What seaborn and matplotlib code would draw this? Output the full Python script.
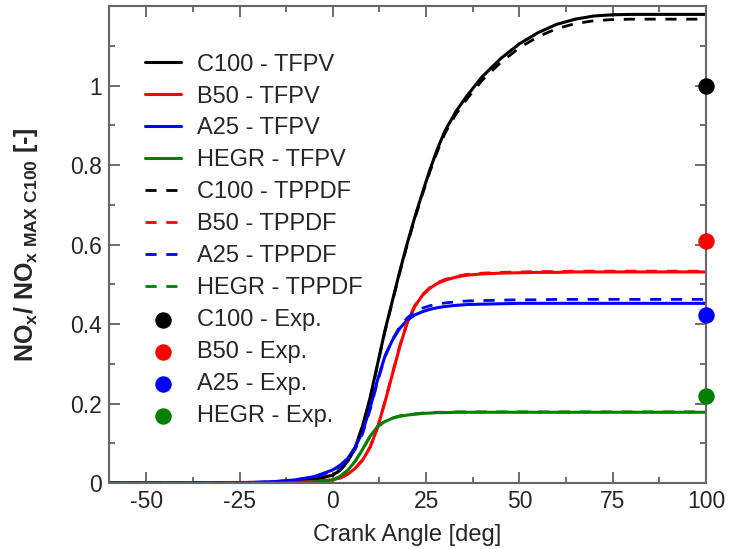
import matplotlib
matplotlib.use("Agg")
import matplotlib.pyplot as plt
import seaborn as sns
import pandas as pd
from matplotlib.ticker import MultipleLocator

sns.set_style("ticks")
plt.rcParams['font.family'] = ['Liberation Sans', 'DejaVu Sans']
plt.rcParams['mathtext.fontset'] = 'custom'
plt.rcParams['mathtext.rm'] = 'Liberation Sans'
plt.rcParams['mathtext.bf'] = 'Liberation Sans:bold'

angle = [-60, -40, -30, -20, -15, -10, -5, 0, 2, 4, 6, 8, 10, 12, 14, 16, 18, 20, 22, 24,
         26, 28, 30, 33, 36, 40, 45, 50, 55, 60, 65, 70, 75, 80, 90, 100]

c100_tfpv = [0, 0, 0, 0.001, 0.002, 0.004, 0.009, 0.02, 0.033, 0.055, 0.09, 0.145, 0.215, 0.3,
             0.385, 0.46, 0.535, 0.605, 0.67, 0.73, 0.788, 0.84, 0.885, 0.935, 0.975, 1.022,
             1.068, 1.105, 1.133, 1.154, 1.167, 1.175, 1.178, 1.179, 1.179, 1.179]
c100_tppdf = [0, 0, 0, 0.001, 0.002, 0.004, 0.009, 0.019, 0.032, 0.054, 0.089, 0.143, 0.213, 0.298,
              0.383, 0.458, 0.532, 0.602, 0.666, 0.726, 0.783, 0.834, 0.879, 0.928, 0.967, 1.013,
              1.058, 1.095, 1.123, 1.143, 1.156, 1.163, 1.166, 1.167, 1.167, 1.167]
b50_tfpv = [0, 0, 0, 0, 0.001, 0.002, 0.004, 0.008, 0.013, 0.022, 0.037, 0.058, 0.09, 0.14,
            0.205, 0.275, 0.345, 0.405, 0.445, 0.472, 0.49, 0.502, 0.51, 0.518, 0.523, 0.526,
            0.528, 0.529, 0.53, 0.53, 0.531, 0.531, 0.531, 0.531, 0.531, 0.531]
b50_tppdf = [0, 0, 0, 0, 0.001, 0.002, 0.004, 0.008, 0.013, 0.022, 0.037, 0.059, 0.091, 0.141,
             0.206, 0.277, 0.347, 0.407, 0.447, 0.474, 0.492, 0.504, 0.512, 0.52, 0.525, 0.528,
             0.53, 0.531, 0.532, 0.532, 0.533, 0.533, 0.533, 0.533, 0.533, 0.533]
a25_tfpv = [0, 0, 0.0005, 0.002, 0.004, 0.008, 0.016, 0.033, 0.045, 0.062, 0.09, 0.13, 0.19, 0.26,
            0.32, 0.36, 0.39, 0.41, 0.423, 0.431, 0.437, 0.441, 0.444, 0.447, 0.449, 0.45,
            0.451, 0.452, 0.452, 0.452, 0.452, 0.452, 0.452, 0.452, 0.452, 0.452]
a25_tppdf = [0, 0, 0.0005, 0.002, 0.004, 0.008, 0.015, 0.03, 0.042, 0.058, 0.085, 0.125, 0.185, 0.255,
             0.318, 0.362, 0.394, 0.416, 0.43, 0.44, 0.446, 0.45, 0.453, 0.456, 0.458, 0.459,
             0.46, 0.461, 0.461, 0.462, 0.462, 0.462, 0.462, 0.462, 0.462, 0.462]
hegr_tfpv = [0, 0, 0, 0, 0, 0.001, 0.003, 0.008, 0.017, 0.032, 0.055, 0.085, 0.118, 0.142,
             0.155, 0.163, 0.168, 0.171, 0.173, 0.175, 0.176, 0.177, 0.177, 0.178, 0.178, 0.178,
             0.178, 0.178, 0.178, 0.178, 0.178, 0.178, 0.178, 0.178, 0.178, 0.178]
hegr_tppdf = [0, 0, 0, 0, 0, 0.001, 0.003, 0.008, 0.017, 0.032, 0.055, 0.085, 0.118, 0.142,
              0.156, 0.164, 0.169, 0.172, 0.174, 0.176, 0.177, 0.178, 0.178, 0.179, 0.179, 0.179,
              0.179, 0.179, 0.179, 0.179, 0.179, 0.179, 0.179, 0.179, 0.179, 0.179]

cases = ["C100", "B50", "A25", "HEGR"]
colors = ["black", "red", "blue", "green"]
tfpv = [c100_tfpv, b50_tfpv, a25_tfpv, hegr_tfpv]
tppdf = [c100_tppdf, b50_tppdf, a25_tppdf, hegr_tppdf]
exp_angle = [100, 100, 100, 100]
exp_value = [1.0, 0.608, 0.422, 0.219]

fig = plt.figure(figsize=(7.29, 5.49), dpi=100)
ax = fig.add_axes([0.1495, 0.1202, 0.8189, 0.8688])

for name, col, ys in zip(cases, colors, tfpv):
    sns.lineplot(x=angle, y=ys, ax=ax, color=col, lw=2.2, label=f"{name} - TFPV")
for name, col, ys in zip(cases, colors, tppdf):
    sns.lineplot(x=angle, y=ys, ax=ax, color=col, lw=2.0, label=f"{name} - TPPDF",
                 dashes=False, linestyle=(0, (4, 3.5)))
for name, col, xv, yv in zip(cases, colors, exp_angle, exp_value):
    sns.scatterplot(x=[xv], y=[yv], ax=ax, color=col, s=140, edgecolor=col, linewidth=0,
                    label=f"{name} - Exp.", clip_on=False, zorder=5)

ax.set_xlim(-60, 100)
ax.set_ylim(0, 1.2)
ax.xaxis.set_major_locator(MultipleLocator(25))
ax.xaxis.set_minor_locator(MultipleLocator(12.5))
ax.yaxis.set_major_locator(MultipleLocator(0.2))
ax.yaxis.set_minor_locator(MultipleLocator(0.1))
ax.set_xticks([-50, -25, 0, 25, 50, 75, 100])
ax.set_xticklabels(["-50", "-25", "0", "25", "50", "75", "100"])
ax.set_yticks([0, 0.2, 0.4, 0.6, 0.8, 1.0])
ax.set_yticklabels(["0", "0.2", "0.4", "0.6", "0.8", "1"])
ax.tick_params(which='both', direction='in', top=True, right=True, color='#555555',
               labelsize=16.5, width=1.2, pad=5)
ax.tick_params(which='major', length=8)
ax.tick_params(which='minor', length=4)
for s in ax.spines.values():
    s.set_color('#666666')
    s.set_linewidth(1.5)

ax.set_xlabel("Crank Angle [deg]", fontsize=17, labelpad=8)
ax.set_ylabel(r"NO$_\mathbf{x}$/ NO$_\mathbf{x\ MAX\ C100}$ [-]", fontsize=18,
              fontweight='bold', labelpad=22)

leg = ax.legend(loc='upper left', bbox_to_anchor=(0.045, 0.92), frameon=False, fontsize=17,
                handlelength=1.5, handletextpad=0.7, labelspacing=0.42, borderaxespad=0)

fig.savefig("out.png", dpi=100)
